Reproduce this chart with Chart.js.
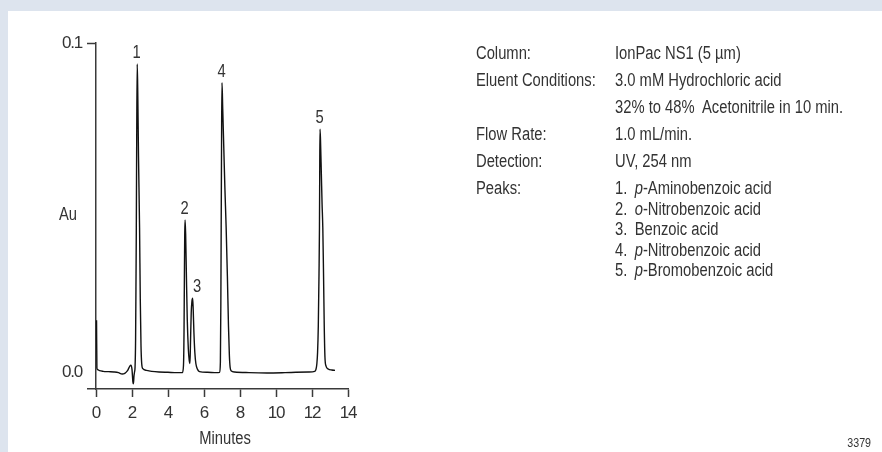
<!DOCTYPE html>
<html><head><meta charset="utf-8">
<script src="https://cdn.jsdelivr.net/npm/chart.js@4"></script>
<style>
html,body{margin:0;padding:0;}
body{width:882px;height:452px;background:#dde4ee;position:relative;overflow:hidden;font-family:'Liberation Sans',Arial,sans-serif;color:#333;}
#panel{position:absolute;left:8px;top:11px;right:0;bottom:0;background:#fff;}
#c{position:absolute;left:0;top:0;}
.row{position:absolute;font-size:18px;line-height:20px;white-space:pre;transform:scaleX(0.82);transform-origin:0 0;}
.lab{left:476px}
.val{left:615px}
.num{display:inline-block;width:24px}
#code{position:absolute;left:811px;width:60px;text-align:right;top:435px;font-size:13px;line-height:16px;transform:scaleX(0.82);transform-origin:100% 0;}
</style></head>
<body>
<div id="panel"></div>
<canvas id="c" width="882" height="452"></canvas>
<div class="row lab" style="top:43px">Column:</div>
<div class="row val" style="top:43px">IonPac NS1 (5 µm)</div>
<div class="row lab" style="top:70px">Eluent Conditions:</div>
<div class="row val" style="top:70px">3.0 mM Hydrochloric acid</div>
<div class="row val" style="top:97px">32% to 48%  Acetonitrile in 10 min.</div>
<div class="row lab" style="top:124px">Flow Rate:</div>
<div class="row val" style="top:124px">1.0 mL/min.</div>
<div class="row lab" style="top:151px">Detection:</div>
<div class="row val" style="top:151px">UV, 254 nm</div>
<div class="row lab" style="top:178px">Peaks:</div>
<div class="row val" style="top:178px"><span class="num">1.</span><i>p</i>-Aminobenzoic acid</div>
<div class="row val" style="top:198.5px"><span class="num">2.</span><i>o</i>-Nitrobenzoic acid</div>
<div class="row val" style="top:219px"><span class="num">3.</span>Benzoic acid</div>
<div class="row val" style="top:239.5px"><span class="num">4.</span><i>p</i>-Nitrobenzoic acid</div>
<div class="row val" style="top:260px"><span class="num">5.</span><i>p</i>-Bromobenzoic acid</div>
<div id="code">3379</div>
<script>
// Retention time (min) and absorbance (AU)
const times = [
  0.03, 0.05, 0.10, 0.20, 0.40, 0.70, 1.00, 1.25, 1.45, 1.60, 1.75, 1.88, 1.94, 2.00, 2.05, 2.08, 2.11, 2.14,
  2.17, 2.20, 2.225, 2.24, 2.265, 2.29, 2.32, 2.36, 2.42, 2.46, 2.50, 2.54, 2.60, 2.80, 3.10, 3.50, 4.00, 4.50, 4.80,
  4.86, 4.89, 4.91, 4.93, 4.95, 4.98, 5.02, 5.07, 5.13, 5.18, 5.22,
  5.25, 5.29, 5.33, 5.37, 5.40, 5.44, 5.49, 5.55, 5.64, 5.75, 6.20, 6.70, 6.87,
  6.91, 6.935, 6.955, 6.98, 7.00, 7.04, 7.10, 7.16, 7.23, 7.30, 7.36, 7.41, 7.45, 7.52, 7.70,
  8.50, 9.50, 10.50, 11.10, 11.80, 12.15,
  12.22, 12.27, 12.31, 12.35, 12.39, 12.415, 12.43, 12.445, 12.47, 12.52, 12.56, 12.60, 12.64, 12.68, 12.72, 12.78,
  12.90, 13.10, 13.28
];
const absorbance = [
  0.0157, 0.0012, 0.0007, 0.0004, 0.0002, 0.0001, 0.0000, -0.0002, -0.0006, -0.0004, 0.0004, 0.0018, 0.0021, 0.0008, -0.0030, -0.0036, -0.0012, 0.0000,
  0.0015, 0.010, 0.030, 0.044, 0.075, 0.0936, 0.085, 0.066, 0.044, 0.022, 0.008, 0.0025, 0.0010, 0.0005, 0.0002, 0.0000, -0.0001, -0.0002, -0.0002,
  0.002, 0.012, 0.028, 0.042, 0.0462, 0.042, 0.030, 0.016, 0.007, 0.0035, 0.0026,
  0.009, 0.018, 0.0215, 0.0224, 0.019, 0.012, 0.006, 0.0025, 0.0008, 0.0001, -0.0001, -0.0002, -0.0001,
  0.003, 0.020, 0.044, 0.075, 0.0879, 0.080, 0.068, 0.056, 0.044, 0.029, 0.014, 0.005, 0.0015, 0.0003, 0.0000,
  -0.0002, -0.0003, -0.0002, -0.0001, 0.0000, 0.0002,
  0.0008, 0.0025, 0.006, 0.014, 0.030, 0.044, 0.062, 0.0738, 0.071, 0.060, 0.051, 0.044, 0.030, 0.014, 0.0045, 0.0018,
  0.0009, 0.0006, 0.0005
];
const xTicks = [0, 2, 4, 6, 8, 10, 12, 14];
const yTicks = [0, 0.1];
const peakLabels = ['1', '2', '3', '4', '5'];
const peakTimes = [2.29, 4.95, 5.37, 7.00, 12.445];
const peakHeights = [0.0936, 0.0462, 0.0224, 0.0879, 0.0738];

const FONT = "'Liberation Sans', Arial, sans-serif";
const INK = '#333';
const AXIS = '#3a3a3a';
const NARROW = 0.82;
const Y_MIN = -0.00517, Y_MAX = 0.1;

function narrowText(ctx, text, x, y) {
  ctx.save();
  ctx.translate(x, y);
  ctx.scale(NARROW, 1);
  ctx.fillText(text, 0, 0);
  ctx.restore();
}

const annotate = {
  id: 'annotate',
  beforeDraw(chart) {
    // condensed look for the library-drawn tick labels
    if ('letterSpacing' in chart.ctx) chart.ctx.letterSpacing = '-1.2px';
  },
  afterDatasetsDraw(chart) {
    const {ctx, scales: {x, y}} = chart;
    ctx.save();
    if ('letterSpacing' in ctx) ctx.letterSpacing = '0px';
    ctx.font = '18px ' + FONT;
    ctx.fillStyle = INK;
    ctx.textAlign = 'center';
    ctx.textBaseline = 'alphabetic';
    peakLabels.forEach((lab, i) => {
      const px = x.getPixelForValue(peakTimes[i]) + (lab === '3' ? 4.5 : -0.5);
      const py = y.getPixelForValue(peakHeights[i]) - 12.5;
      narrowText(ctx, lab, px, py + 6.5);
    });
    narrowText(ctx, 'Au', 68, 213 + 6.5);
    narrowText(ctx, 'Minutes', 225, 437 + 6.5);
    ctx.restore();
  }
};

new Chart(document.getElementById('c'), {
  type: 'line',
  data: {
    datasets: [{
      data: times.map((t, i) => ({x: t, y: absorbance[i]})),
      yAxisID: 'y',
      borderColor: '#111',
      borderWidth: 1.4,
      pointRadius: 0,
      fill: false,
      cubicInterpolationMode: 'monotone',
      clip: false
    }]
  },
  options: {
    responsive: false,
    animation: false,
    events: [],
    layout: {padding: {left: 0, right: 534, top: 43, bottom: 0}},
    plugins: {legend: {display: false}, tooltip: {enabled: false}},
    scales: {
      x: {
        type: 'linear', min: -4 / 9, max: 14, position: 'bottom',
        afterBuildTicks: s => { s.ticks = xTicks.map(v => ({value: v})); },
        afterFit: s => { s.height = 63; },
        grid: {drawOnChartArea: false, drawTicks: true, tickLength: 8, tickWidth: 1.5, tickColor: AXIS},
        border: {display: true, color: AXIS, width: 1.5},
        ticks: {color: INK, font: {family: FONT, size: 17}, padding: 6, maxRotation: 0, autoSkip: false,
                callback: v => String(v)}
      },
      y: {
        type: 'linear', min: Y_MIN, max: Y_MAX, position: {x: 0},
        afterBuildTicks: s => { s.ticks = yTicks.map(v => ({value: v})); },
        grid: {drawOnChartArea: false, drawTicks: true, tickLength: 8, tickWidth: 1.5,
               tickColor: c => (c.tick && c.tick.value === 0.1) ? AXIS : 'rgba(0,0,0,0)'},
        border: {display: true, color: AXIS, width: 1.5},
        ticks: {display: false}
      },
      yl: {
        type: 'linear', min: Y_MIN, max: Y_MAX, position: 'left',
        afterBuildTicks: s => { s.ticks = yTicks.map(v => ({value: v})); },
        afterFit: s => { s.width = 88; },
        grid: {display: false, drawTicks: false},
        border: {display: false},
        ticks: {color: INK, font: {family: FONT, size: 17}, padding: 6, callback: v => v.toFixed(1)}
      }
    }
  },
  plugins: [annotate]
});
</script>
</body></html>
